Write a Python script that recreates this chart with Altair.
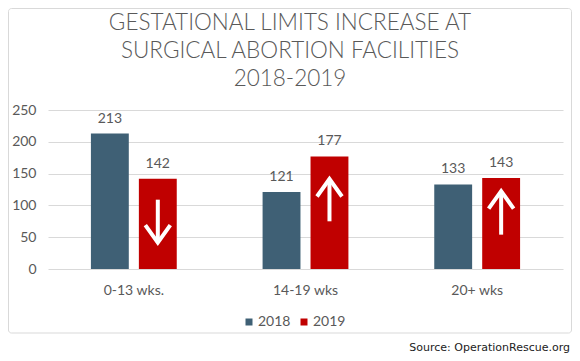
import altair as alt
import pandas as pd

categories = ["0-13 wks.", "14-19 wks", "20+ wks"]
years = ["2018", "2019"]
v2018 = [213, 121, 133]
v2019 = [142, 177, 143]
arrow_dir = ["down", "up", "up"]
arrow_tail = [109, 75, 54]
arrow_tip = [41.5, 141.5, 122.4]
title_lines = ["GESTATIONAL LIMITS INCREASE AT", "SURGICAL ABORTION FACILITIES", "2018-2019"]
source_text = "Source: OperationRescue.org"
y_ticks = [0, 50, 100, 150, 200, 250]

GRAY = "#595959"
FONT = "Lato"

rows = []
for c, a, b in zip(categories, v2018, v2019):
    rows.append({"cat": c, "year": years[0], "value": a})
    rows.append({"cat": c, "year": years[1], "value": b})
df = pd.DataFrame(rows)

arrows = pd.DataFrame({"cat": categories, "year": [years[1]] * 3, "dir": arrow_dir,
                       "tail": arrow_tail, "tip": arrow_tip})

x_axis = alt.Axis(labelAngle=0, domain=False, ticks=False, labelPadding=14,
                  labelFontSize=14, labelColor=GRAY, labelFont=FONT, grid=False)
y_axis = alt.Axis(values=y_ticks, tickCount=6, domain=False, ticks=False, labelPadding=12,
                  labelFontSize=14, labelColor=GRAY, labelFont=FONT,
                  labelOverlap=False, labelFlush=False,
                  gridColor="#D9D9D9", gridWidth=1)
x_scale = alt.Scale(paddingInner=0.5, paddingOuter=0.25)
xo_scale = alt.Scale(paddingInner=0.21, paddingOuter=0)
y_scale = alt.Scale(domain=[0, 250], nice=False)


def X():
    return alt.X("cat:N", sort=categories, title=None, scale=x_scale, axis=x_axis)


def XO():
    return alt.XOffset("year:N", sort=years, scale=xo_scale)


def Y(field):
    return alt.Y(field, scale=y_scale, title=None, axis=y_axis)


bars = alt.Chart(df).mark_bar().encode(
    x=X(),
    xOffset=XO(),
    y=Y("value:Q"),
    color=alt.Color("year:N", sort=years,
                    scale=alt.Scale(domain=years, range=["#3F6075", "#C00000"]),
                    legend=alt.Legend(title=None, orient="none", legendX=194, legendY=205,
                                      direction="horizontal", symbolType="square",
                                      symbolSize=49, symbolStrokeWidth=0,
                                      labelFontSize=14, labelColor=GRAY, labelFont=FONT,
                                      labelOffset=2, columnPadding=6)),
)

labels = alt.Chart(df).mark_text(baseline="alphabetic", dy=-11, fontSize=14, color=GRAY,
                                 font=FONT).encode(
    x=X(),
    xOffset=XO(),
    y=Y("value:Q"),
    text=alt.Text("value:Q"),
)

down_path = "M-1,-1.4L0,0L1,-1.4"
up_path = "M-1,1.4L0,0L1,1.4"

shafts = alt.Chart(arrows).mark_rule(color="white", strokeWidth=4).encode(
    x=X(),
    xOffset=XO(),
    y=Y("tail:Q"),
    y2="tip:Q",
)
heads = alt.Chart(arrows).mark_point(filled=False, stroke="white", strokeWidth=4,
                                     size=625, opacity=1, strokeJoin="miter").encode(
    x=X(),
    xOffset=XO(),
    y=Y("tip:Q"),
    shape=alt.Shape("dir:N", scale=alt.Scale(domain=["down", "up"], range=[down_path, up_path]),
                    legend=None),
)

one = pd.DataFrame({"k": [0]})
title = alt.Chart(one).mark_text(text=title_lines, font=FONT, fontSize=22.5, fontWeight=300,
                                 color=GRAY, align="center", baseline="alphabetic",
                                 lineHeight=28).encode(
    x=alt.value(242), y=alt.value(-80))
source = alt.Chart(one).mark_text(text=source_text, font="DejaVu Sans", fontSize=11,
                                  color="#222222", align="right", baseline="alphabetic").encode(
    x=alt.value(522), y=alt.value(241))
border = alt.Chart(one).mark_rect(fill=None, stroke="#D9D9D9", strokeWidth=1,
                                  cornerRadius=3).encode(
    x=alt.value(-39.5), x2=alt.value(523.5), y=alt.value(-101.5), y2=alt.value(223))

chart = alt.layer(bars, labels, shafts, heads, border, title, source).properties(
    width=515, height=159,
    autosize=alt.AutoSizeParams(type="none"),
    padding={"left": 40, "top": 102, "right": 9, "bottom": 84},
    background="white",
).configure_view(stroke=None)

chart.save("out.html", embed_options={"renderer": "svg", "actions": False})
